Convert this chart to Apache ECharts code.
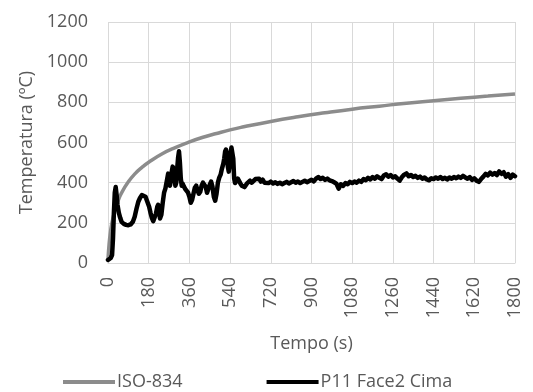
<!DOCTYPE html>
<html>
<head>
<meta charset="utf-8">
<script src="https://cdn.jsdelivr.net/npm/echarts@6/dist/echarts.min.js"></script>
<style>
  html, body { margin: 0; padding: 0; background: #fff; }
  #chart { width: 533px; height: 392px; }
</style>
</head>
<body>
<div id="chart"></div>
<script>
// ISO-834 curva padrao
var isoTime = [0, 5, 10, 15, 30, 45, 60, 90, 120, 150, 180, 240, 300, 360, 420, 480, 540, 600, 720, 840, 960, 1080, 1200, 1320, 1440, 1560, 1680, 1800];
var isoTemp = [20, 96, 147, 185, 261, 311, 349, 404, 445, 476, 502, 544, 576, 603, 626, 645, 663, 678, 705, 728, 748, 766, 781, 796, 808, 820, 831, 842];

// P11 Face2 Cima
var p11Time = [0, 6, 12, 18, 22, 26, 30, 34, 38, 42, 48, 54, 60, 70, 80, 90, 100, 110, 118, 126, 134, 142, 150, 158, 166, 174, 182, 188, 194, 200, 206, 212, 218, 222, 226, 230, 236, 242, 248, 254, 258, 262, 266, 270, 274, 278, 282, 286, 290, 294, 298, 302, 306, 310, 314, 318, 322, 326, 330, 336, 342, 348, 354, 360, 366, 372, 378, 384, 390, 396, 402, 408, 414, 420, 426, 432, 438, 444, 450, 456, 462, 468, 474, 480, 486, 492, 498, 504, 510, 514, 518, 522, 526, 530, 534, 538, 542, 546, 550, 554, 558, 562, 568, 574, 580, 586, 592, 598, 604, 610, 616, 622, 628, 636, 644, 652, 660, 668, 676, 684, 692,
  700, 710, 720, 730, 740, 750, 760, 770, 780, 790, 800, 810, 820, 830, 840, 850, 860, 870, 880, 890, 900, 910, 920, 930, 940, 950, 960, 970, 980, 990, 1000, 1010, 1020, 1030, 1040, 1050, 1060, 1070, 1080, 1090, 1100, 1110, 1120, 1130, 1140, 1150, 1160, 1170, 1180, 1190, 1200, 1210, 1220, 1230, 1240, 1250, 1260, 1270, 1280, 1290, 1300, 1310, 1320, 1330, 1340, 1350, 1360, 1370, 1380, 1390, 1400, 1410, 1420, 1430, 1440, 1450, 1460, 1470, 1480, 1490, 1500, 1510, 1520, 1530, 1540, 1550, 1560, 1570, 1580, 1590, 1600, 1610, 1620, 1630, 1640, 1650, 1660, 1670, 1680, 1690, 1700, 1710, 1720, 1730, 1740, 1750, 1760, 1770, 1780, 1790, 1800];
var p11Temp = [15, 18, 25, 40, 120, 250, 350, 378, 340, 290, 250, 225, 205, 195, 190, 188, 192, 205, 230, 270, 305, 325, 338, 342, 330, 305, 280, 250, 225, 208, 215, 245, 280, 290, 255, 222, 240, 300, 350, 372, 380, 420, 445, 420, 385, 410, 455, 480, 470, 430, 385, 400, 470, 525, 556, 500, 420, 385, 395, 380, 368, 360, 350, 330, 300, 315, 345, 375, 385, 360, 345, 355, 385, 400, 408, 380, 350, 355, 390, 405, 380, 330, 310, 345, 400, 425, 440, 470, 495, 520, 555, 565, 540, 480, 455, 490, 545, 575, 572, 520, 420, 398, 405, 420, 412, 395, 385, 380, 378, 388, 398, 405, 410, 400, 408, 418, 412, 420, 405, 415, 400,
  408, 398, 405, 396, 402, 394, 400, 392, 398, 404, 396, 402, 408, 400, 406, 398, 404, 410, 402, 408, 414, 406, 420, 428, 418, 424, 414, 420, 412, 408, 402, 395, 370, 392, 384, 398, 392, 404, 398, 406, 400, 410, 404, 418, 412, 424, 416, 428, 420, 432, 424, 418, 436, 442, 430, 438, 426, 432, 420, 410, 428, 440, 446, 432, 438, 428, 434, 424, 430, 420, 426, 416, 412, 422, 418, 426, 420, 428, 418, 424, 416, 426, 420, 428, 422, 430, 424, 434, 426, 420, 428, 414, 422, 410, 404, 418, 430, 444, 436, 450, 440, 448, 438, 456, 444, 452, 430, 442, 424, 440, 432];

var seriesNames = ['ISO-834', 'P11 Face2 Cima'];

function pairs(xs, ys) {
    return xs.map(function (x, i) { return [x, ys[i]]; });
}

function plain(v) {
    return String(v);
}

var font = 'Open Sans';
var chart = echarts.init(document.getElementById('chart'));

var option = {
    animation: false,
    grid: {
        left: 108,
        right: 18,
        top: 22,
        bottom: 129
    },
    legend: {
        data: [
            { name: seriesNames[0], icon: 'rect' },
            { name: seriesNames[1], icon: 'rect' }
        ],
        left: 63,
        top: 373,
        padding: 0,
        itemWidth: 52,
        itemHeight: 4,
        itemGap: 84,
        textStyle: { fontFamily: font, fontSize: 18, color: '#595959', padding: [0, 0, 0, -3] }
    },
    xAxis: {
        type: 'value',
        min: 0,
        max: 1800,
        interval: 180,
        name: 'Tempo (s)',
        nameLocation: 'middle',
        nameGap: 72,
        nameTextStyle: { fontFamily: font, fontSize: 18, color: '#595959' },
        axisLine: { show: true, lineStyle: { color: '#d9d9d9', width: 1 } },
        axisTick: { show: false },
        axisLabel: { rotate: 90, margin: 14, fontFamily: font, fontSize: 18, color: '#595959', formatter: plain },
        splitLine: { show: true, lineStyle: { color: '#d9d9d9', width: 1 } }
    },
    yAxis: {
        type: 'value',
        min: 0,
        max: 1200,
        interval: 200,
        name: 'Temperatura (ºC)',
        nameLocation: 'middle',
        nameGap: 69,
        nameTextStyle: { fontFamily: font, fontSize: 18, color: '#595959' },
        axisLine: { show: false },
        axisTick: { show: false },
        axisLabel: { margin: 20, fontFamily: font, fontSize: 18, color: '#595959', formatter: plain },
        splitLine: { show: true, lineStyle: { color: '#d9d9d9', width: 1 } }
    },
    series: [
        {
            name: seriesNames[0],
            type: 'line',
            smooth: true,
            showSymbol: false,
            color: '#8c8c8c',
            lineStyle: { color: '#8c8c8c', width: 3.5 },
            data: pairs(isoTime, isoTemp)
        },
        {
            name: seriesNames[1],
            type: 'line',
            showSymbol: false,
            color: '#000000',
            lineStyle: { color: '#000000', width: 4.5, join: 'round', cap: 'round' },
            data: pairs(p11Time, p11Temp)
        }
    ]
};
chart.setOption(option);
</script>
</body>
</html>
